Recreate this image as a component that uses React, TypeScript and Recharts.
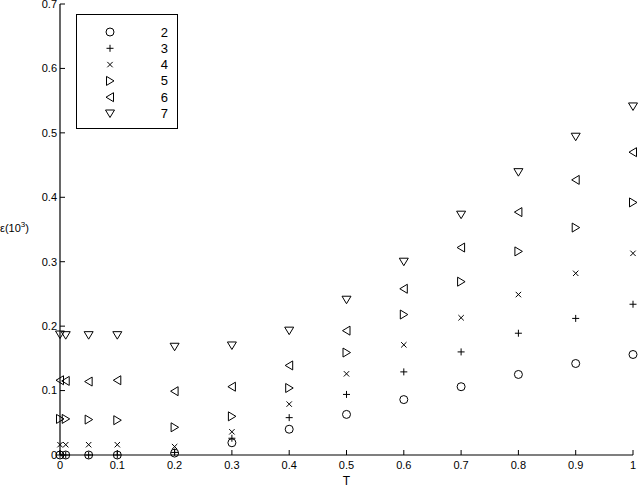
import React from 'react';
import { ScatterChart, Scatter, XAxis, YAxis, Legend } from 'recharts';

const tValues = [0, 0.01, 0.05, 0.1, 0.2, 0.3, 0.4, 0.5, 0.6, 0.7, 0.8, 0.9, 1];
const series2 = [0, 0, 0, 0, 0.003, 0.019, 0.040, 0.063, 0.086, 0.106, 0.125, 0.142, 0.156];
const series3 = [0, 0, 0, 0, 0.004, 0.026, 0.058, 0.094, 0.129, 0.160, 0.189, 0.212, 0.234];
const series4 = [0.016, 0.016, 0.016, 0.016, 0.013, 0.036, 0.079, 0.126, 0.171, 0.213, 0.249, 0.282, 0.313];
const series5 = [0.056, 0.056, 0.055, 0.054, 0.043, 0.060, 0.104, 0.159, 0.218, 0.269, 0.316, 0.353, 0.392];
const series6 = [0.116, 0.115, 0.114, 0.116, 0.099, 0.106, 0.139, 0.193, 0.258, 0.322, 0.377, 0.427, 0.470];
const series7 = [0.187, 0.186, 0.186, 0.186, 0.168, 0.170, 0.193, 0.241, 0.300, 0.373, 0.439, 0.494, 0.541];

const seriesNames = ['2', '3', '4', '5', '6', '7'];
const seriesMarkers = ['circle', 'plus', 'x', 'right', 'left', 'down'];
const seriesValues = [series2, series3, series4, series5, series6, series7];

const xTicks = [0, 0.1, 0.2, 0.3, 0.4, 0.5, 0.6, 0.7, 0.8, 0.9, 1];
const xTickLabels = ['0', '0.1', '0.2', '0.3', '0.4', '0.5', '0.6', '0.7', '0.8', '0.9', '1'];
const yTicks = [0, 0.1, 0.2, 0.3, 0.4, 0.5, 0.6, 0.7];
const yTickLabels = ['0', '0.1', '0.2', '0.3', '0.4', '0.5', '0.6', '0.7'];

const FONT = '"Liberation Sans", Arial, Helvetica, sans-serif';

function Marker({ type, cx, cy }: { type: string; cx: number; cy: number }) {
  const s = { stroke: '#000', strokeWidth: 1, fill: 'none' } as const;
  switch (type) {
    case 'circle':
      return <circle cx={cx} cy={cy} r={4} {...s} />;
    case 'plus':
      return (
        <path d={`M${cx - 3.5},${cy}H${cx + 3.5}M${cx},${cy - 3.5}V${cy + 3.5}`} {...s} />
      );
    case 'x':
      return (
        <path
          d={`M${cx - 2.7},${cy - 2.7}L${cx + 2.7},${cy + 2.7}M${cx - 2.7},${cy + 2.7}L${cx + 2.7},${cy - 2.7}`}
          {...s}
        />
      );
    case 'right':
      return <polygon points={`${cx - 3.5},${cy - 4.5} ${cx - 3.5},${cy + 4.5} ${cx + 4},${cy}`} {...s} />;
    case 'left':
      return <polygon points={`${cx + 3.5},${cy - 4.5} ${cx + 3.5},${cy + 4.5} ${cx - 4},${cy}`} {...s} />;
    case 'down':
    default:
      return <polygon points={`${cx - 4.5},${cy - 3.5} ${cx + 4.5},${cy - 3.5} ${cx},${cy + 4}`} {...s} />;
  }
}

const LegendBox = () => (
  <svg width={100} height={113} style={{ display: 'block' }}>
    {seriesNames.map((n, i) => {
      const y = 17 + i * 16.3;
      return (
        <g key={n}>
          <Marker type={seriesMarkers[i]} cx={33} cy={y} />
          <text
            x={91}
            y={y}
            textAnchor="end"
            dominantBaseline="central"
            fontFamily={FONT}
            fontSize={13}
            fill="#000"
          >
            {n}
          </text>
        </g>
      );
    })}
  </svg>
);

const YLabel = (props: any) => {
  const vb = props.viewBox || {};
  const cy = (vb.y ?? 0) + (vb.height ?? 0) / 2 - 2;
  return (
    <text x={0} y={cy} dominantBaseline="central" fontFamily={FONT} fontSize={11} fill="#000">
      ε(10
      <tspan dy={-4} fontSize={8}>3</tspan>
      <tspan dy={4}>)</tspan>
    </text>
  );
};

export default function App() {
  const datasets = seriesValues.map((vals) => tValues.map((t, i) => ({ t, v: vals[i] })));
  const tickStyle = { fontFamily: FONT, fontSize: 11, fill: '#000' };
  return (
    <div style={{ position: 'absolute', left: 0, top: 0, width: 640, height: 488, background: '#fff' }}>
      <ScatterChart width={640} height={488} margin={{ top: 4, right: 7, bottom: 0, left: 0 }}>
        <XAxis
          xAxisId="b"
          type="number"
          dataKey="t"
          domain={[0, 1]}
          ticks={xTicks}
          tickFormatter={(v: number) => xTickLabels[xTicks.indexOf(v)] ?? String(v)}
          height={33}
          tickSize={-5}
          tickMargin={11}
          axisLine={{ stroke: '#000', strokeWidth: 1.2 }}
          tickLine={{ stroke: '#000' }}
          tick={tickStyle}
          interval={0}
          label={{ value: 'T', position: 'insideBottom', offset: 3, style: { fontFamily: FONT, fontSize: 12, fill: '#000' } }}
        />
        <XAxis
          xAxisId="top"
          orientation="top"
          type="number"
          domain={[0, 1]}
          ticks={xTicks}
          tickFormatter={() => ''}
          height={0}
          tickSize={-5}
          axisLine={{ stroke: '#000', strokeWidth: 1.2 }}
          tickLine={{ stroke: '#000' }}
          interval={0}
        />
        <YAxis
          yAxisId="l"
          type="number"
          dataKey="v"
          domain={[0, 0.7]}
          ticks={yTicks}
          tickFormatter={(v: number) => yTickLabels[yTicks.indexOf(v)] ?? String(v)}
          width={60}
          tickSize={-5}
          tickMargin={8}
          axisLine={{ stroke: '#000', strokeWidth: 1.2 }}
          tickLine={{ stroke: '#000' }}
          tick={tickStyle}
          interval={0}
          label={<YLabel />}
        />
        <YAxis
          yAxisId="right"
          orientation="right"
          type="number"
          domain={[0, 0.7]}
          ticks={yTicks}
          tickFormatter={() => ''}
          width={0}
          tickSize={-5}
          axisLine={{ stroke: '#000', strokeWidth: 1.2 }}
          tickLine={{ stroke: '#000' }}
          interval={0}
        />
        <Legend
          layout="horizontal"
          verticalAlign="middle"
          align="center"
          content={() => <LegendBox />}
          wrapperStyle={{
            position: 'absolute',
            left: 76,
            top: 14,
            width: 102,
            height: 115,
            border: '1px solid #000',
            boxSizing: 'border-box',
            background: '#fff',
          }}
        />
        {datasets.map((d, i) => (
          <Scatter
            key={seriesNames[i]}
            name={seriesNames[i]}
            data={d}
            xAxisId="b"
            yAxisId="l"
            isAnimationActive={false}
            shape={(p: any) => <Marker type={seriesMarkers[i]} cx={p.cx} cy={p.cy} />}
          />
        ))}
      </ScatterChart>
    </div>
  );
}
